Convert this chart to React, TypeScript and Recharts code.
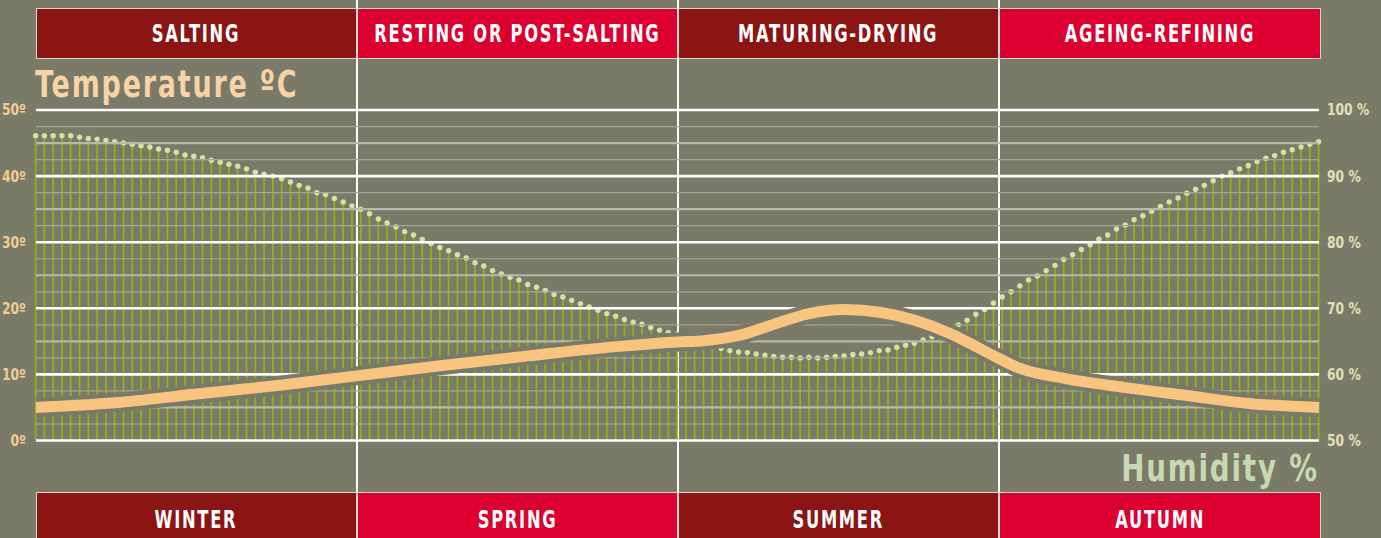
import React from "react";
import { ComposedChart, Bar, Line, XAxis, YAxis, ReferenceLine } from "recharts";

const phases = ["SALTING", "RESTING OR POST-SALTING", "MATURING-DRYING", "AGEING-REFINING"];
const seasons = ["WINTER", "SPRING", "SUMMER", "AUTUMN"];
const tempTicks = [0, 10, 20, 30, 40, 50];
const humidityTicks = [50, 60, 70, 80, 90, 100];
const midGrid = [5, 15, 25, 35, 45];
const minorGrid = [2.5, 7.5, 12.5, 17.5, 22.5, 27.5, 32.5, 37.5, 42.5, 47.5];

// relative humidity (%), one reading per stem
const humidity = [
  96.1, 96.1, 96.1, 96.1, 96.1, 95.9, 95.7, 95.6, 95.4, 95.2,
  95.0, 94.8, 94.6, 94.4, 94.1, 93.9, 93.6, 93.2, 93.0, 92.8,
  92.4, 92.1, 91.8, 91.5, 91.1, 90.6, 90.3, 90.0, 89.6, 89.1,
  88.6, 88.2, 87.5, 87.2, 86.6, 86.1, 85.5, 85.0, 84.3, 83.5,
  82.9, 82.3, 81.6, 81.1, 80.4, 79.8, 79.2, 78.7, 78.1, 77.6,
  76.9, 76.4, 75.7, 75.2, 74.7, 74.3, 73.6, 73.2, 72.7, 72.1,
  71.7, 71.2, 70.7, 70.2, 69.7, 69.2, 68.8, 68.3, 67.9, 67.6,
  67.1, 66.7, 66.3, 66.1, 65.6, 65.1, 64.6, 64.2, 63.9, 63.6,
  63.4, 63.3, 63.1, 62.9, 62.7, 62.6, 62.6, 62.5, 62.6, 62.5,
  62.6, 62.7, 62.8, 63.0, 63.1, 63.3, 63.6, 63.7, 64.1, 64.4,
  64.7, 65.2, 65.7, 66.4, 66.9, 67.5, 68.2, 69.1, 69.8, 70.8,
  71.7, 72.5, 73.4, 74.3, 74.9, 75.7, 76.5, 77.4, 78.1, 78.9,
  79.6, 80.5, 81.1, 82.0, 82.6, 83.4, 84.0, 84.7, 85.4, 86.1,
  86.7, 87.4, 88.0, 88.6, 89.3, 90.0, 90.5, 91.1, 91.6, 92.2,
  92.7, 93.1, 93.6, 94.0, 94.4, 94.8, 95.2,
];

// temperature (ºC) read at some of the stems
const tempAt = [0, 9, 18, 28, 36, 46, 56, 66, 73, 76, 80, 84, 88, 92, 96, 100, 104, 107, 109, 112, 117, 124, 131, 138, 146];
const tempValues = [5.0, 5.7, 7.0, 8.4, 9.7, 11.3, 12.8, 14.2, 14.9, 15.1, 15.9, 17.6, 19.2, 19.8, 19.4, 18.2, 16.2, 14.2, 12.8, 10.9, 9.4, 8.0, 6.8, 5.6, 5.0];

const data = humidity.map((hum, i) => {
  const k = tempAt.indexOf(i);
  return { i, hum, temp: k >= 0 ? tempValues[k] : null };
});

const BG = "#7a7a69";
const DARK_RED = "#8a1513";
const RED = "#dc0030";
const FONT = "'DejaVu Sans', 'Open Sans', sans-serif";
const PLOT_LEFT = 35.5;
const PLOT_RIGHT = 1320.5;
const Q = (PLOT_RIGHT - PLOT_LEFT) / 4;

const Lollipop = (props: any) => {
  const { x, y, width, height } = props;
  if (x == null || y == null) return null;
  const cx = x + width / 2;
  return (
    <g>
      <line x1={cx} x2={cx} y1={y} y2={y + height} stroke="#92b410" strokeWidth={1.7} />
      <circle cx={cx} cy={y} r={2.7} fill="#d3e3a3" />
    </g>
  );
};

// narrow tick text (no condensed face installed, so squeeze it)
const makeTick = (fill: string, anchor: "start" | "end", suffix: string) => (props: any) => {
  const { x, y, payload } = props;
  return (
    <text
      transform={`translate(${x},${y}) scale(0.82,1)`}
      textAnchor={anchor}
      dominantBaseline="central"
      fill={fill}
      fontSize={15}
      fontWeight={700}
      fontFamily={FONT}
    >
      {`${payload.value}${suffix}`}
    </text>
  );
};

const Narrow = ({ children, scale }: { children: React.ReactNode; scale: number }) => (
  <span style={{ display: "inline-block", whiteSpace: "nowrap", transform: `scaleX(${scale})` }}>
    {children}
  </span>
);

const boxRow = (labels: string[], top: number, height: number, padTop: number) =>
  labels.map((label, idx) => (
    <div
      key={label}
      style={{
        position: "absolute",
        left: PLOT_LEFT + idx * Q,
        top,
        width: Q,
        height,
        boxSizing: "border-box",
        border: "1px solid #d9d9d0",
        paddingTop: padTop,
        background: idx % 2 === 0 ? DARK_RED : RED,
        color: "#fff",
        fontWeight: 700,
        fontSize: 24,
        letterSpacing: 2.5,
        display: "flex",
        alignItems: "center",
        justifyContent: "center",
      }}
    >
      <Narrow scale={0.68}>{label}</Narrow>
    </div>
  ));

export default function App() {
  return (
    <div
      style={{
        position: "relative",
        width: 1381,
        height: 538,
        background: BG,
        overflow: "hidden",
        fontFamily: FONT,
      }}
    >
      <style>{"body{margin:0}"}</style>
      {[1, 2, 3].map((k) => (
        <div
          key={k}
          style={{
            position: "absolute",
            left: PLOT_LEFT + k * Q - 1,
            top: 0,
            width: 2,
            height: 538,
            background: "#ffffff",
          }}
        />
      ))}
      {boxRow(phases, 8, 51, 1)}
      {boxRow(seasons, 492, 52, 3)}
      <div
        style={{
          position: "absolute",
          left: 35,
          top: 62,
          fontSize: 38,
          fontWeight: 700,
          letterSpacing: 2.5,
          color: "#f8d3a6",
          lineHeight: "44px",
          transformOrigin: "left center",
          transform: "scaleX(0.71)",
          whiteSpace: "nowrap",
        }}
      >
        Temperature ºC
      </div>
      <div
        style={{
          position: "absolute",
          right: 1381 - 1319,
          top: 446,
          fontSize: 38,
          fontWeight: 700,
          letterSpacing: 2.5,
          color: "#c6d9b0",
          lineHeight: "44px",
          transformOrigin: "right center",
          transform: "scaleX(0.73)",
          whiteSpace: "nowrap",
        }}
      >
        Humidity %
      </div>
      <div style={{ position: "absolute", left: 0, top: 0 }}>
        <ComposedChart
          width={1381}
          height={538}
          data={data}
          margin={{ top: 110, right: 0, bottom: 97.5, left: 0 }}
        >
          <XAxis dataKey="i" type="number" domain={[0, humidity.length - 1]} hide />
          <YAxis
            yAxisId="t"
            orientation="left"
            width={36}
            domain={[0, 50]}
            ticks={tempTicks}
            axisLine={false}
            tickLine={false}
            tickSize={0}
            tickMargin={10}
            tick={makeTick("#f2cd92", "end", "º")}
          />
          <YAxis
            yAxisId="h"
            orientation="right"
            width={62}
            domain={[50, 100]}
            ticks={humidityTicks}
            axisLine={false}
            tickLine={false}
            tickSize={0}
            tickMargin={8}
            tick={makeTick("#e2e0b8", "start", " %")}
          />
          <Bar
            yAxisId="h"
            dataKey="hum"
            barSize={2}
            shape={Lollipop}
            isAnimationActive={false}
            zIndex={100}
          />
          {minorGrid.map((v) => (
            <ReferenceLine key={`m${v}`} yAxisId="t" y={v} stroke="#a6a697" strokeWidth={1.2} zIndex={200} />
          ))}
          {midGrid.map((v) => (
            <ReferenceLine key={`d${v}`} yAxisId="t" y={v} stroke="#b9b9aa" strokeWidth={2.2} zIndex={200} />
          ))}
          {tempTicks.map((v) => (
            <ReferenceLine key={`w${v}`} yAxisId="t" y={v} stroke="#ffffff" strokeWidth={2.6} zIndex={210} />
          ))}
          <Line
            yAxisId="t"
            dataKey="temp"
            type="monotone"
            connectNulls
            stroke={BG}
            strokeWidth={19}
            dot={false}
            activeDot={false}
            isAnimationActive={false}
            zIndex={450}
          />
          <Line
            yAxisId="t"
            dataKey="temp"
            type="monotone"
            connectNulls
            stroke="#f9c47f"
            strokeWidth={11}
            dot={false}
            activeDot={false}
            isAnimationActive={false}
            zIndex={460}
          />
        </ComposedChart>
      </div>
    </div>
  );
}
